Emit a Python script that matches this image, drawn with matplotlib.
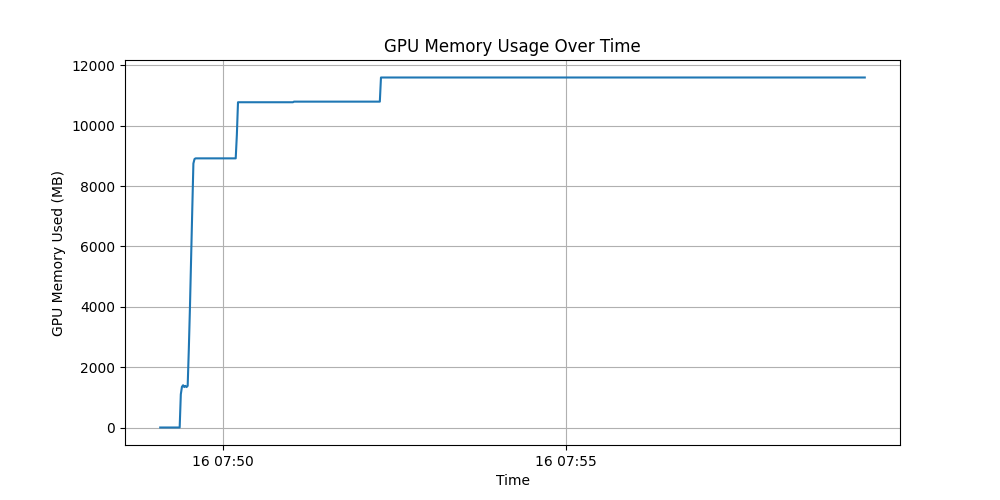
import matplotlib
matplotlib.use("Agg")
import matplotlib.pyplot as plt
import pandas as pd

# sample times (16th, 07:49 - 07:59) and memory readings in MB
times = [
    "07:49:05", "07:49:22", "07:49:23", "07:49:24", "07:49:25", "07:49:26",
    "07:49:27", "07:49:28", "07:49:29", "07:49:30", "07:49:31", "07:49:32",
    "07:49:33", "07:49:34", "07:49:35", "07:49:36", "07:50:11", "07:50:12",
    "07:50:13", "07:51:01", "07:51:02", "07:52:17", "07:52:18", "07:59:21",
]
memory_used = [
    0, 0, 1100, 1350, 1400, 1340, 1380, 1340, 1380, 2600, 4000, 5600,
    7200, 8750, 8900, 8920, 8920, 9700, 10780, 10780, 10800, 10800, 11600, 11600,
]

timestamps = pd.to_datetime(["2024-05-16 " + t for t in times])

plt.figure(figsize=(10, 5), dpi=100)
plt.plot(timestamps, memory_used)
plt.xlabel('Time')
plt.ylabel('GPU Memory Used (MB)')
plt.title('GPU Memory Usage Over Time')
plt.grid(True)

plt.savefig('out.png')
